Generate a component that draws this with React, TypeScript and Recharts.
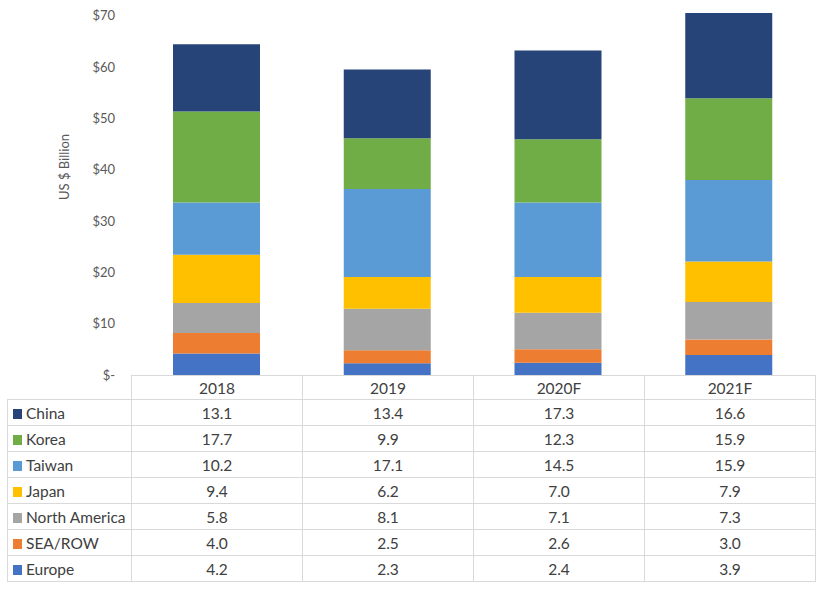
import React from 'react';
import { BarChart, Bar, XAxis, YAxis } from 'recharts';

const years = ['2018', '2019', '2020F', '2021F'];
const china = [13.1, 13.4, 17.3, 16.6];
const korea = [17.7, 9.9, 12.3, 15.9];
const taiwan = [10.2, 17.1, 14.5, 15.9];
const japan = [9.4, 6.2, 7.0, 7.9];
const northAmerica = [5.8, 8.1, 7.1, 7.3];
const seaRow = [4.0, 2.5, 2.6, 3.0];
const europe = [4.2, 2.3, 2.4, 3.9];
const yTicks = [0, 10, 20, 30, 40, 50, 60, 70];

// table order, top to bottom (stack order is the reverse)
const series = [
  { name: 'China', color: '#264478', values: china },
  { name: 'Korea', color: '#70AD47', values: korea },
  { name: 'Taiwan', color: '#5B9BD5', values: taiwan },
  { name: 'Japan', color: '#FFC000', values: japan },
  { name: 'North America', color: '#A5A5A5', values: northAmerica },
  { name: 'SEA/ROW', color: '#ED7D31', values: seaRow },
  { name: 'Europe', color: '#4472C4', values: europe },
];

const data = years.map((year, i) => {
  const row: Record<string, string | number> = { year };
  series.forEach((s) => {
    row[s.name] = s.values[i];
  });
  return row;
});

const FONT = 'Lato, "Open Sans", sans-serif';
const BORDER = '1px solid #d9d9d9';

const YLabel = (props: any) => {
  const vb = props.viewBox || { x: 0, y: 0 };
  const x = vb.x - 7;
  const y = vb.y + 154;
  return (
    <text
      x={x}
      y={y}
      transform={`rotate(-90 ${x} ${y})`}
      textAnchor="middle"
      dominantBaseline="central"
      fill="#595959"
      fontSize={13}
      fontFamily={FONT}
    >
      US $ Billion
    </text>
  );
};

const cellBase: React.CSSProperties = {
  border: BORDER,
  padding: 0,
  textAlign: 'center',
  color: '#404040',
  fontSize: 15.5,
};

const App: React.FC = () => {
  return (
    <div style={{ position: 'absolute', top: 0, left: 0, width: 820, height: 590, background: '#fff', fontFamily: FONT }}>
      <BarChart
        width={820}
        height={590}
        data={data}
        margin={{ top: 13, right: 6, left: 71, bottom: 215 }}
      >
        <XAxis dataKey="year" hide />
        <YAxis
          width={60}
          domain={[0, 70]}
          ticks={yTicks}
          interval={0}
          axisLine={false}
          tickLine={false}
          tickSize={0}
          tickMargin={16}
          tick={{ fill: '#595959', fontSize: 13, fontFamily: FONT }}
          tickFormatter={(v: number) => (v === 0 ? '$-' : `$${v}`)}
          label={<YLabel />}
        />
        {[...series].reverse().map((s) => (
          <Bar
            key={s.name}
            dataKey={s.name}
            stackId="a"
            fill={s.color}
            barSize={87}
            isAnimationActive={false}
          />
        ))}
      </BarChart>
      <table
        style={{
          position: 'absolute',
          left: 7,
          top: 375,
          width: 808,
          borderCollapse: 'collapse',
          tableLayout: 'fixed',
          fontFamily: FONT,
        }}
      >
        <colgroup>
          <col style={{ width: 124 }} />
          {years.map((y) => (
            <col key={y} style={{ width: 171 }} />
          ))}
        </colgroup>
        <tbody>
          <tr style={{ height: 24 }}>
            <td style={{ ...cellBase, borderTop: 'none', borderLeft: 'none' }} />
            {years.map((y) => (
              <td key={y} style={cellBase}>
                {y}
              </td>
            ))}
          </tr>
          {series.map((s) => (
            <tr key={s.name} style={{ height: 26 }}>
              <td style={{ ...cellBase, textAlign: 'left', paddingLeft: 5, whiteSpace: 'nowrap' }}>
                <span
                  style={{
                    display: 'inline-block',
                    width: 9,
                    height: 10,
                    background: s.color,
                    marginRight: 4,
                  }}
                />
                {s.name}
              </td>
              {s.values.map((v, i) => (
                <td key={i} style={cellBase}>
                  {v.toFixed(1)}
                </td>
              ))}
            </tr>
          ))}
        </tbody>
      </table>
    </div>
  );
};

export default App;
